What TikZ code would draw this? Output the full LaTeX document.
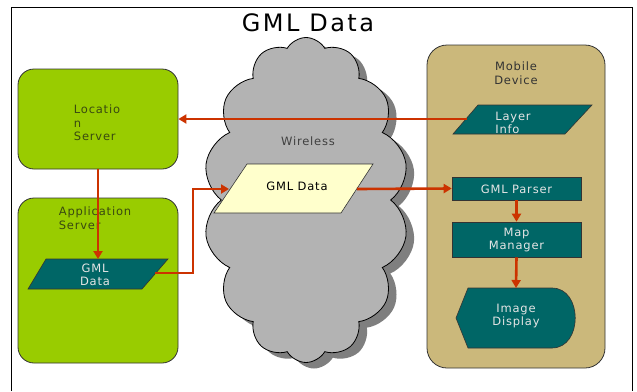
\documentclass[tikz,border=0pt]{standalone}
\usepackage{fontspec}
\setmainfont{DejaVu Sans}[LetterSpace=7]
\usetikzlibrary{shapes.symbols,arrows.meta}
\definecolor{boxgreen}{HTML}{99CC00}
\definecolor{tan}{HTML}{CBB87B}
\definecolor{teal}{HTML}{006666}
\definecolor{paleyellow}{HTML}{FFFFCC}
\definecolor{cloudgray}{HTML}{B3B3B3}
\definecolor{shadowgray}{HTML}{7F7F7F}
\definecolor{arrowred}{HTML}{CC3300}
\definecolor{darktext}{HTML}{3A4A10}
\begin{document}
\begin{tikzpicture}[x=1pt,y=-1pt,
  txt/.style={font=\fontsize{11.5}{13.5}\selectfont, inner sep=0pt, align=center},
  wtxt/.style={txt, text=white!90!black},
  gbox/.style={draw=black!80, fill=boxgreen, rounded corners=16pt, line width=0.8pt},
  tbox/.style={draw=black!80, fill=teal, line width=0.6pt},
  flow/.style={draw=arrowred, line width=2.6pt, -{Triangle[length=8pt,width=9pt]}},
  flowline/.style={draw=arrowred, line width=2.6pt}]
\useasboundingbox (0,0) rectangle (637,391);
\fill[white] (0,0) rectangle (637,391);
% outer frame
\draw[line width=1pt] (11,391) -- (11,7) -- (632,7) -- (632,391);
\node[font=\fontsize{24}{26}\selectfont\addfontfeature{LetterSpace=10}, inner sep=0pt] (title) at (308,23) {GML Data};

% cloud
\node[shape=cloud, cloud puffs=14, cloud puff arc=120, aspect=0.6,
      minimum width=205pt, minimum height=325pt, fill=shadowgray] (cloudshadow) at (314,206) {};
\node[shape=cloud, cloud puffs=14, cloud puff arc=120, aspect=0.6,
      minimum width=205pt, minimum height=325pt, fill=cloudgray, draw=black, line width=0.8pt] (cloud) at (306,200) {};
\node[txt, text=black!75] (wireless) at (308,141) {Wireless};

% Location server
\node[gbox, minimum width=160pt, minimum height=100pt] (locbox) at (98,119) {};
\node[txt, align=left, text=darktext] (loctext) at (97,123) {Locatio\\n\\Server};

% Application server
\draw[gbox] (18,198) rectangle (178,363);
\node[txt, align=left, text=darktext] (apptext) at (95,218) {Application\\Server};
\draw[draw=black!80, fill=teal, line width=0.6pt] (46,259) -- (168,259) -- (142,289) -- (28,289) -- cycle;
\node[wtxt] (gml1) at (95,275) {GML\\Data};
\coordinate (gml1top) at (98,259);
\coordinate (gml1r) at (155,273);

% cloud GML data
\draw[draw=black!80, fill=paleyellow, line width=0.6pt] (247,164) -- (373,164) -- (341,213) -- (214,213) -- cycle;
\node[txt] (gml2) at (297,186) {GML Data};
\coordinate (gml2l) at (229,189);
\coordinate (gml2r) at (357,189);

% Mobile device
\draw[draw=black!80, fill=tan, line width=0.8pt, rounded corners=20pt] (427,45) rectangle (605,368);
\node[txt, text=black!80] (mobile) at (516,73) {Mobile\\Device};
\draw[draw=black!80, fill=teal, line width=0.6pt] (478,105) -- (592,105) -- (565,134) -- (453,134) -- cycle;
\node[wtxt, align=left] (layer) at (513,123) {Layer\\Info};
\coordinate (layerl) at (467,119);
\node[tbox, minimum width=129pt, minimum height=23pt, inner sep=0pt] (parser) at (516.5,188.5) {};
\node[wtxt] (parsertext) at (516.5,189) {GML Parser};
\node[tbox, minimum width=129pt, minimum height=35pt, inner sep=0pt] (mapmgr) at (516.5,239.5) {};
\node[wtxt] (maptext) at (516.5,240) {Map\\Manager};
\draw[draw=black!80, fill=teal, line width=0.6pt] (456,318) -- (468,288) -- (552,288)
   .. controls (583,288) and (583,348) .. (552,348) -- (468,348) -- cycle;
\coordinate (imgtop) at (516,288);
\node[wtxt] (imgtext) at (516,316) {Image\\Display};

% connectors
\draw[flow] (layerl) -- (locbox.east |- layerl);
\draw[flow] (locbox.south) -- (gml1top);
\coordinate (bend1) at (193,273);
\coordinate (bend2) at (193,189);
\draw[flow] (gml1r) -- (bend1) -- (bend2) -- (gml2l);
\draw[flow] (gml2r) -- (parser.west);
\draw[flow] (parser.south) -- (mapmgr.north);
\draw[flow] (mapmgr.south) -- (imgtop);
\end{tikzpicture}
\end{document}
